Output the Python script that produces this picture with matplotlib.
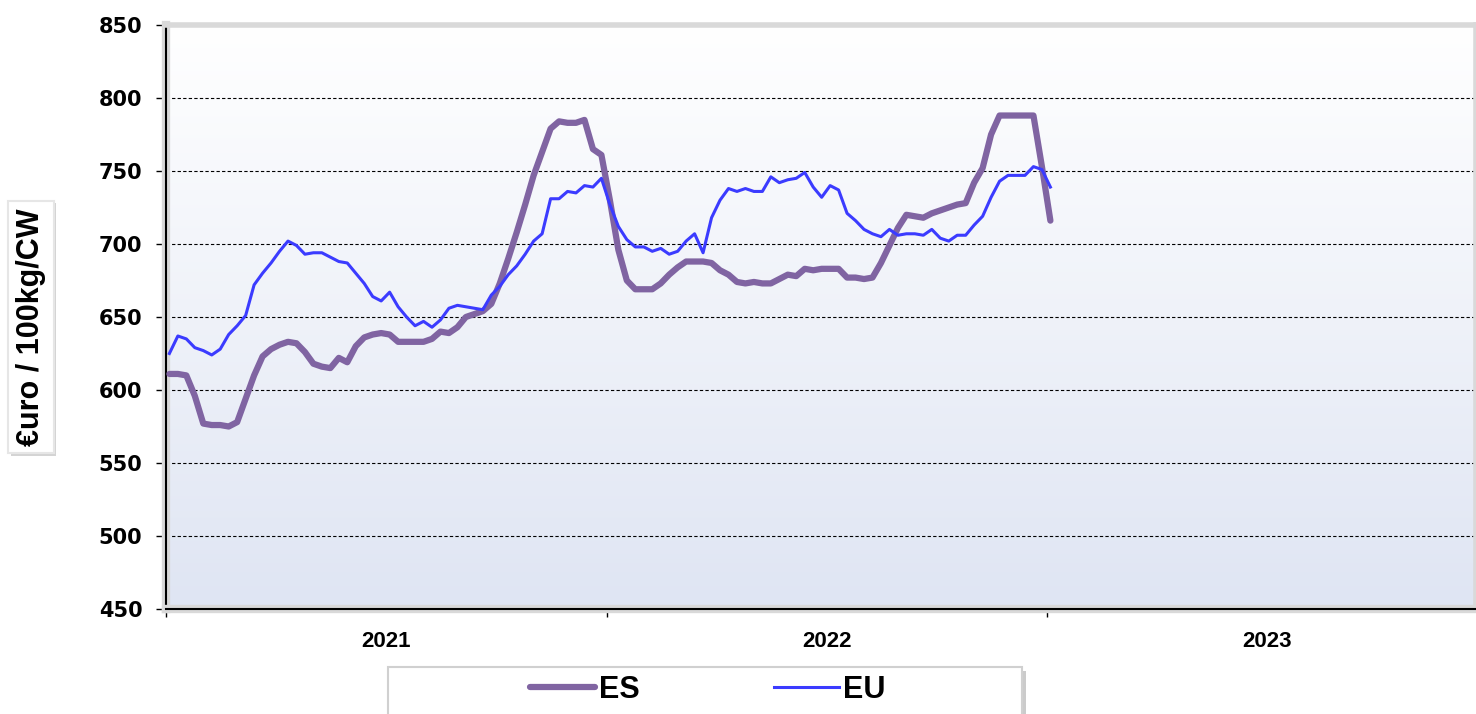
import numpy as np
import matplotlib
matplotlib.use('Agg')
import matplotlib.pyplot as plt
from matplotlib.patches import Rectangle
import matplotlib.patheffects as pe

# weekly prices, week 1 2021 .. week 1 2023
es = [611, 611, 610, 596, 577, 576, 576, 575, 578, 594,
      610, 623, 628, 631, 633, 632, 626, 618, 616, 615,
      622, 619, 630, 636, 638, 639, 638, 633, 633, 633,
      633, 635, 640, 639, 643, 650, 652, 654, 659, 673,
      690, 708, 727, 747, 763, 779, 784, 783, 783, 785,
      765, 761, 730, 696, 675, 669, 669, 669, 673, 679,
      684, 688, 688, 688, 687, 682, 679, 674, 673, 674,
      673, 673, 676, 679, 678, 683, 682, 683, 683, 683,
      677, 677, 676, 677, 687, 699, 711, 720, 719, 718,
      721, 723, 725, 727, 728, 742, 752, 775, 788, 788,
      788, 788, 788, 753, 716]
eu = [625, 637, 635, 629, 627, 624, 628, 638, 644, 651,
      672, 680, 687, 695, 702, 699, 693, 694, 694, 691,
      688, 687, 680, 673, 664, 661, 667, 657, 650, 644,
      647, 643, 648, 656, 658, 657, 656, 655, 665, 671,
      679, 685, 693, 702, 707, 731, 731, 736, 735, 740,
      739, 745, 727, 712, 703, 698, 698, 695, 697, 693,
      695, 702, 707, 694, 718, 730, 738, 736, 738, 736,
      736, 746, 742, 744, 745, 749, 739, 732, 740, 737,
      721, 716, 710, 707, 705, 710, 706, 707, 707, 706,
      710, 704, 702, 706, 706, 713, 719, 732, 743, 747,
      747, 747, 753, 751, 739]
years = ['2021', '2022', '2023']
yticks = [450, 500, 550, 600, 650, 700, 750, 800, 850]

weeks = np.arange(len(es))
year_start = -0.4          # week position of 1 January 2021
year_len = 52.0

fig = plt.figure(figsize=(14.76, 7.14), dpi=100)
ax = fig.add_axes([166/1476, 1-609/714, 1-166/1476, (609-25)/714])

# gradient background
grad = np.linspace(0, 1, 256).reshape(-1, 1)
top = np.array([1.0, 1.0, 1.0])
bot = np.array([0xdf, 0xe5, 0xf3]) / 255
img = top + (bot - top) * grad[:, :, None]
ax.imshow(img, extent=[0, 1, 0, 1], transform=ax.transAxes, aspect='auto', zorder=0)

for v in [500, 550, 600, 650, 700, 750, 800]:
    ax.axhline(v, color='black', lw=0.8, ls=(0, (3, 2)), zorder=1)

ax.plot(weeks, es, color='#8064A2', lw=4.5, solid_joinstyle='round',
        solid_capstyle='round', label='ES', zorder=3)
ax.plot(weeks, eu, color='#3B3BFF', lw=2.2, solid_joinstyle='round', label='EU', zorder=4)

ax.set_ylim(450, 850)
ax.set_xlim(year_start, year_start + (1476-166)/(1047-166)*2*year_len)
ax.set_yticks(yticks)
ax.set_yticklabels([str(v) for v in yticks], fontsize=15, fontweight='bold',
                   family='DejaVu Sans')
ax.tick_params(axis='y', length=7, width=1, pad=10, direction='out')

bounds = [year_start + i*year_len for i in range(3)]
ax.set_xticks(bounds)
ax.set_xticklabels([])
ax.tick_params(axis='x', length=6, width=1, direction='out')
for i, y in enumerate(years):
    ax.text(year_start + (i+0.5)*year_len, -0.055, y, transform=ax.get_xaxis_transform(),
            ha='center', va='center', fontsize=16, fontweight='bold', family='Liberation Sans')

for s in ['top', 'right']:
    ax.spines[s].set_color('#d9d9d9')
    ax.spines[s].set_linewidth(4)
for s in ['left', 'bottom']:
    ax.spines[s].set_color('black')
    ax.spines[s].set_linewidth(1.5)
    ax.spines[s].set_path_effects([pe.Stroke(linewidth=6, foreground='#d9d9d9'), pe.Normal()])

# y label in white box with shadow
fig.text(31/1476, 1-327/714, '€uro / 100kg/CW', rotation=90, ha='center', va='center',
         fontsize=22, fontweight='bold', family='Liberation Sans',
         bbox=dict(boxstyle='square,pad=0.25', fc='white', ec='#e6e6e6', lw=1.5,
                   path_effects=[pe.withSimplePatchShadow(offset=(2, -2), shadow_rgbFace='#aaaaaa', alpha=0.5)]))

# legend box
box = Rectangle((388/1476, -0.01), (1022-388)/1476, (714-667)/714 + 0.01, transform=fig.transFigure,
                fc='white', ec='#d0d0d0', lw=1.5, zorder=5,
                path_effects=[pe.withSimplePatchShadow(offset=(3, -3), shadow_rgbFace='#999999', alpha=0.5)])
fig.patches.append(box)
leg = fig.legend(loc='center', bbox_to_anchor=(708/1476, 1-690/714), ncol=2, frameon=False,
                 handlelength=2.1, handletextpad=0.15, columnspacing=4.4,
                 prop=dict(family='Liberation Sans', weight='bold', size=22))
leg.set_zorder(6)

fig.savefig('out.png', dpi=100)
